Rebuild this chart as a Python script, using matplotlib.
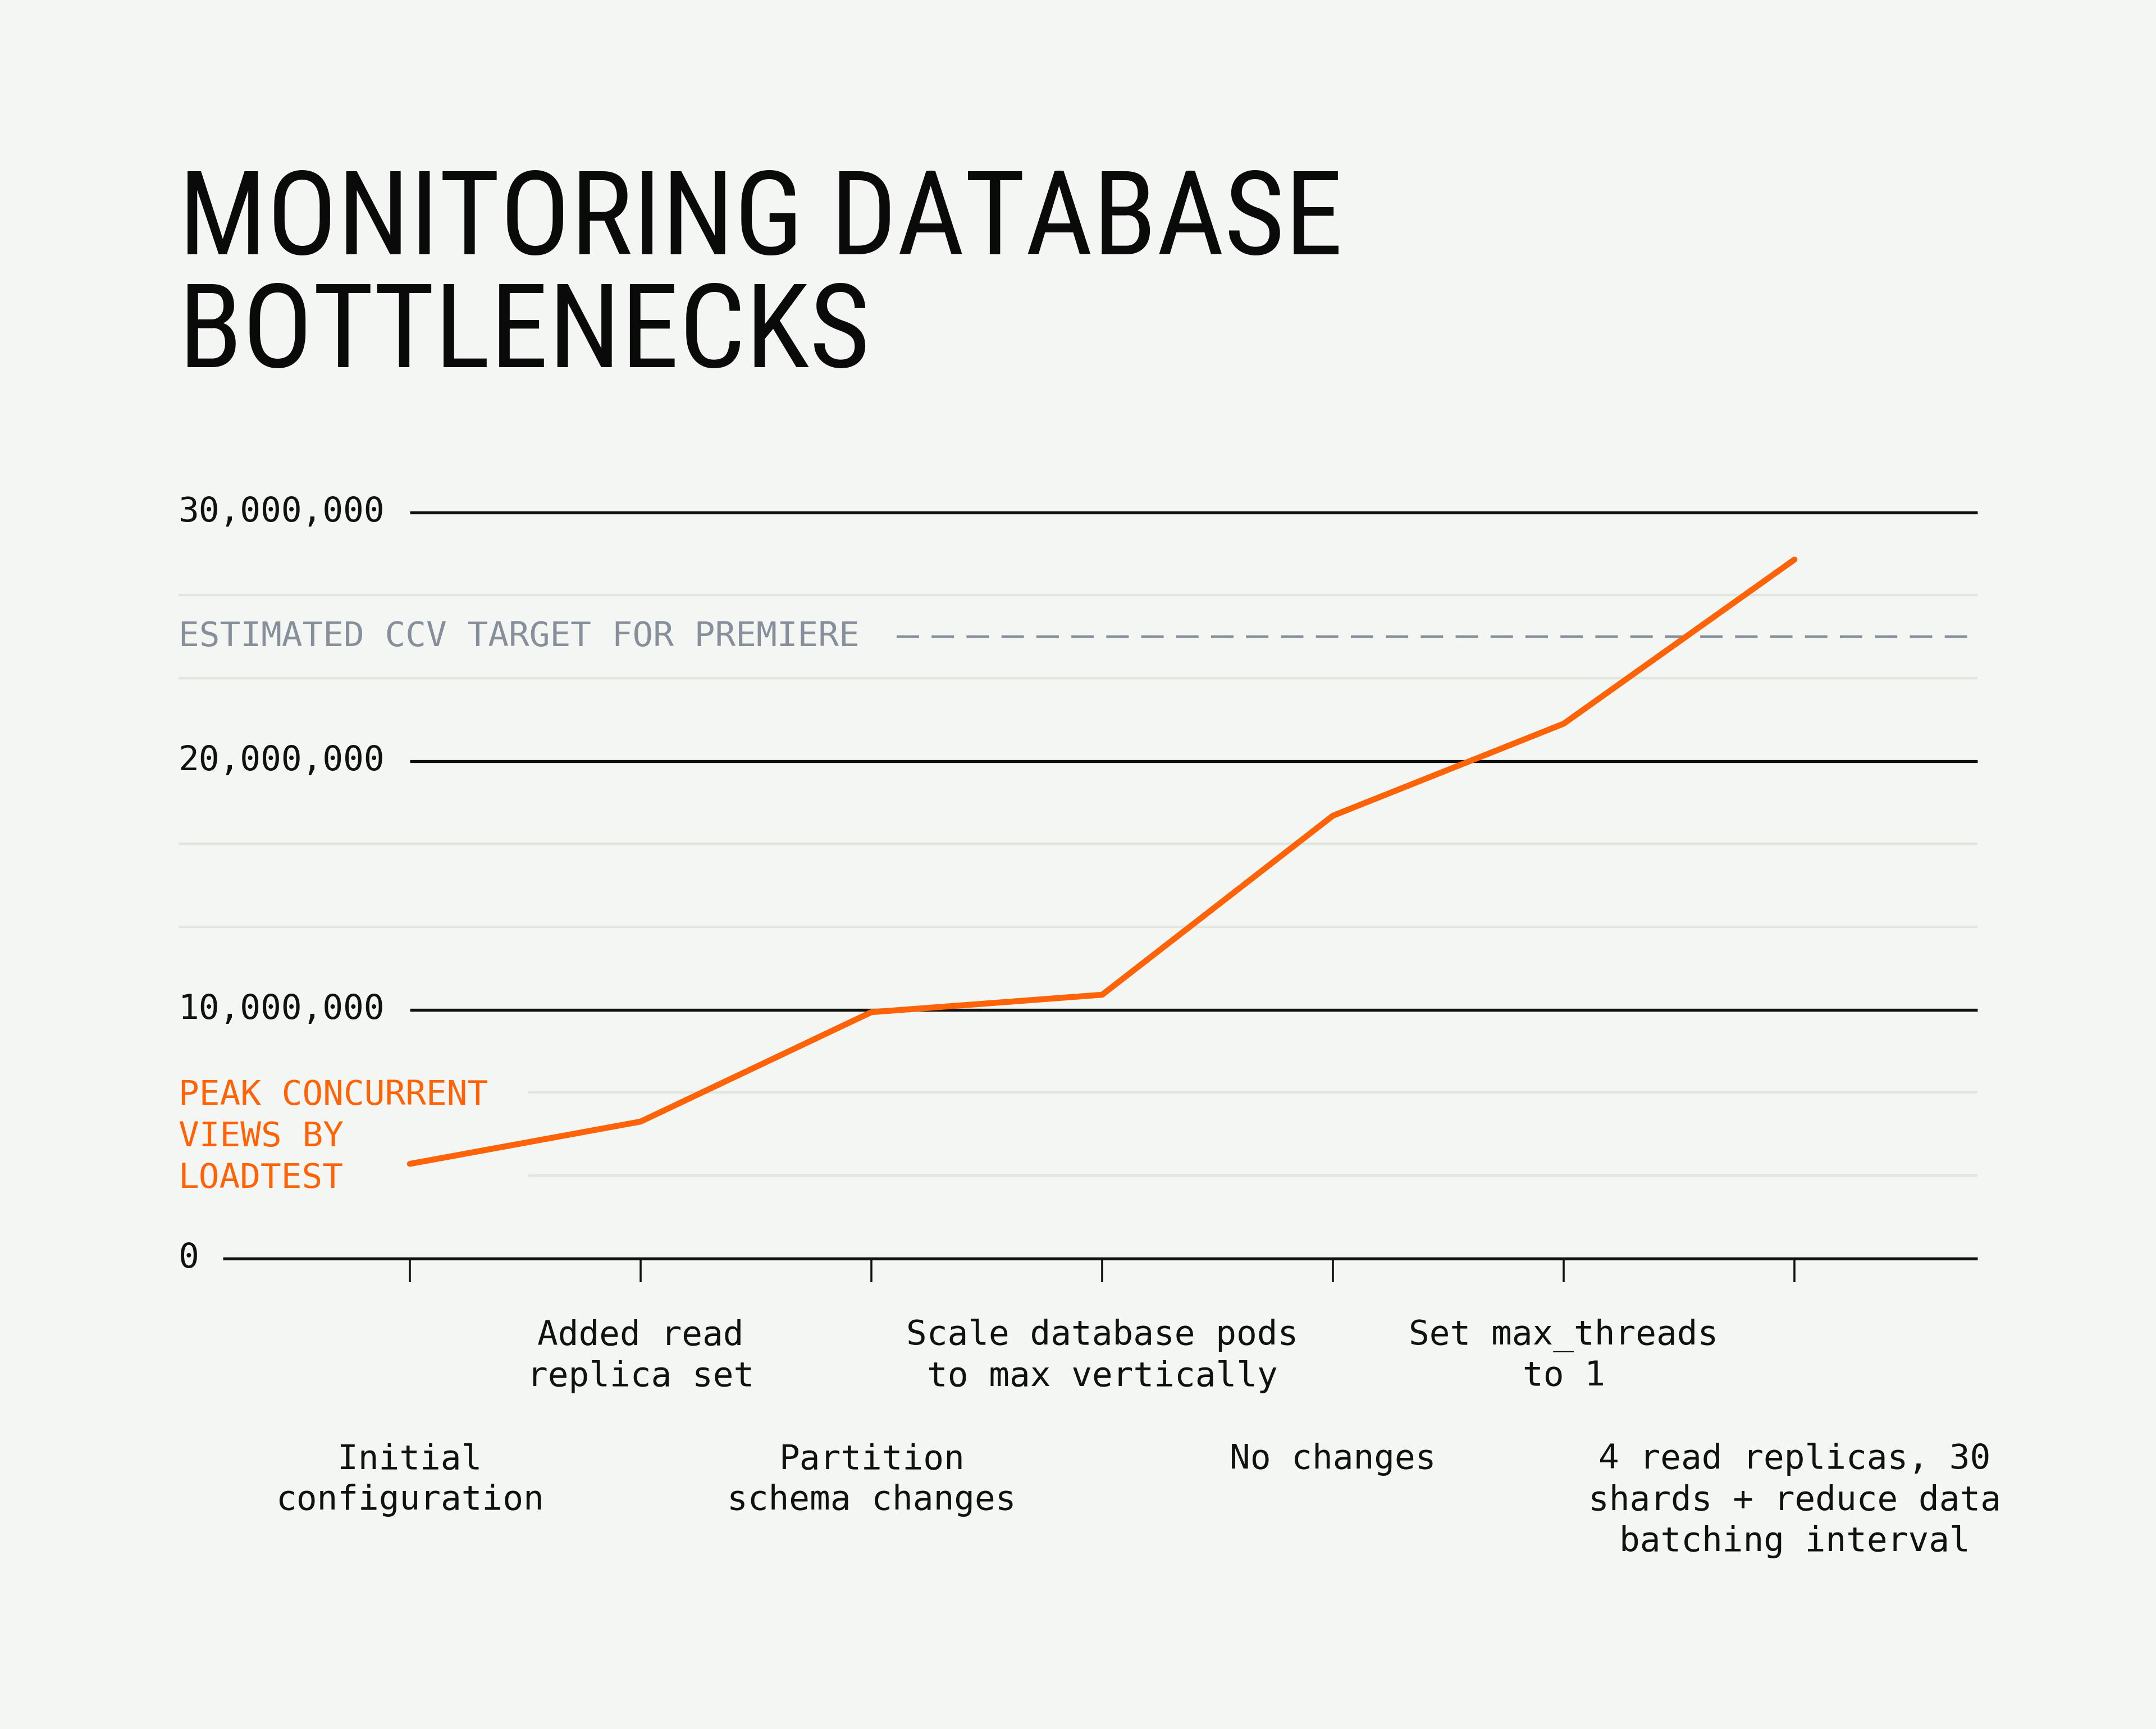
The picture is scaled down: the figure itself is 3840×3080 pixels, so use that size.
import matplotlib
matplotlib.use("Agg")
import matplotlib.pyplot as plt
from matplotlib import font_manager
from matplotlib.transforms import blended_transform_factory

# data
steps = [
    "Initial\nconfiguration",
    "Added read\nreplica set",
    "Partition\nschema changes",
    "Scale database pods\nto max vertically",
    "No changes",
    "Set max_threads\nto 1",
    "4 read replicas, 30\nshards + reduce data\nbatching interval",
]
peak_ccv = [3.8e6, 5.5e6, 9.9e6, 10.6e6, 17.8e6, 21.5e6, 28.1e6]
ccv_target = 25e6
major_vals = [0, 10e6, 20e6, 30e6]
major_labels = ["0", "10,000,000", "20,000,000", "30,000,000"]
minor_vals = [10e6 / 3, 20e6 / 3, 40e6 / 3, 50e6 / 3, 70e6 / 3, 80e6 / 3]

title_lines = ["MONITORING DATABASE", "BOTTLENECKS"]
series_label = ["PEAK CONCURRENT", "VIEWS BY", "LOADTEST"]
target_label = "ESTIMATED CCV TARGET FOR PREMIERE"

BG = "#f4f6f3"
ORANGE = "#ff6308"
GREY = "#878f9b"
LIGHT = "#e3e5df"
INK = "#111111"

W, H = 3840, 3080
DPI = 200

# narrow face for the title if one is around, Roboto otherwise
names = {f.name for f in font_manager.fontManager.ttflist}
title_font, title_size = "Roboto", 67
for cand in ["Roboto Condensed", "Liberation Sans Narrow", "DejaVu Sans Condensed"]:
    if cand in names:
        title_font, title_size = cand, 75
        break
mono = ["DejaVu Sans Mono"]


def fx(px):
    return px / W


def fy(px):
    return 1 - px / H


fig = plt.figure(figsize=(W / DPI, H / DPI), dpi=DPI, facecolor=BG)

# axes: x index 0 sits at 730px, 411px per step; y 0 at 2241px, 30M at 913px
ax = fig.add_axes([fx(318), fy(2241.6), fx(3522 - 318), (2241.6 - 912.6) / H])
ax.set_facecolor(BG)
ax.set_xlim(-1.0024, 6.793)
ax.set_ylim(0, 30e6)
ax.axis("off")

x_idx = list(range(len(steps)))
x_end = 6.793

# light grid lines
for v in minor_vals:
    start = -1.0024 if v > 8e6 else 0.51
    ax.hlines(v, start, x_end, color=LIGHT, lw=1.6, clip_on=False, zorder=1)

# major lines
for v in major_vals:
    start = -0.81 if v == 0 else 0
    ax.hlines(v, start, x_end, color=INK, lw=1.9, clip_on=False, zorder=2)

# ticks under the zero line
tick_len = 42 / (2241.6 - 912.6) * 30e6
ax.vlines(x_idx, -tick_len, 0, color=INK, lw=1.3, clip_on=False, zorder=2)

# target dashed line
ax.plot([2.11, x_end], [ccv_target, ccv_target], color=GREY, lw=1.6,
        dashes=(9, 5), clip_on=False, zorder=2)

# series
ax.plot(x_idx, peak_ccv, color=ORANGE, lw=3.8, solid_joinstyle="round",
        solid_capstyle="round", clip_on=False, zorder=4)

# y labels
ytrans = blended_transform_factory(fig.transFigure, ax.transData)
for v, lab in zip(major_vals, major_labels):
    ax.text(fx(318), v, lab, transform=ytrans, ha="left", va="center",
            fontsize=22, family=mono, color=INK)

ax.text(fx(318), ccv_target, target_label, transform=ytrans, ha="left",
        va="center", fontsize=22, family=mono, color=GREY)

# series label
for i, line in enumerate(series_label):
    fig.text(fx(318), fy(1968 + i * 74), line, ha="left", va="baseline",
             fontsize=22, family=mono, color=ORANGE)

# x labels, alternating rows
xtrans = blended_transform_factory(ax.transData, fig.transFigure)
for i, lab in enumerate(steps):
    base = 2395 if i % 2 else 2616
    for j, line in enumerate(lab.split("\n")):
        ax.text(i, fy(base + j * 73.5), line, transform=xtrans, ha="center",
                va="baseline", fontsize=22, family=mono, color=INK)

# title
for i, line in enumerate(title_lines):
    fig.text(fx(318), fy(453 + i * 201), line, ha="left", va="baseline",
             fontsize=title_size, family=[title_font, "DejaVu Sans"],
             color="#0a0a0a")

fig.savefig("out.png", dpi=DPI, facecolor=BG)
